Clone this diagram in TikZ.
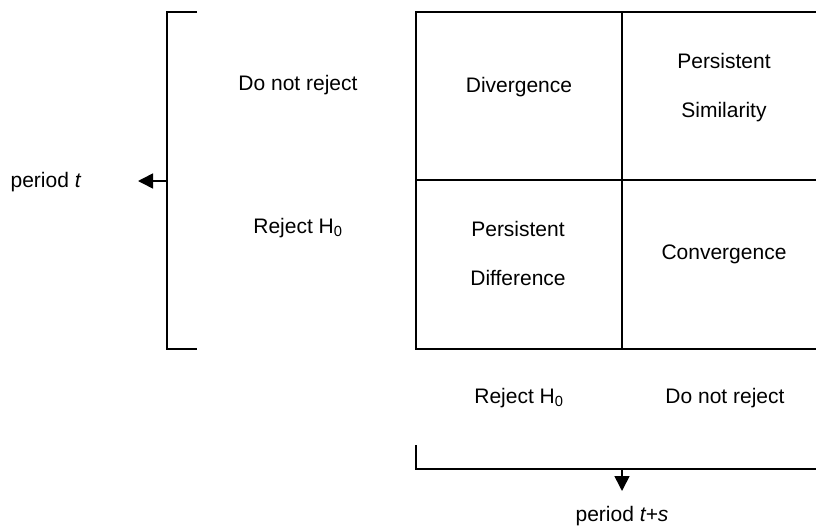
\documentclass[tikz,border=0pt]{standalone}
\usepackage{fontspec}
\setmainfont{Liberation Sans}
\usetikzlibrary{arrows.meta}

\begin{document}
\begin{tikzpicture}[x=1pt, y=-1pt, line width=1.6pt,
    lbl/.style={anchor=base, inner sep=0pt, font=\fontsize{21}{25}\selectfont},
    tip/.style={-{Triangle[length=15pt,width=15pt]}}]
    \useasboundingbox (0,0) rectangle (816,525);

    % the 2x2 table (right edge runs off the page)
    \coordinate (NW) at (416,12);
    \coordinate (N) at (622,12);
    \coordinate (NE) at (816,12);
    \coordinate (W) at (416,180);
    \coordinate (E) at (816,180);
    \coordinate (SW) at (416,349);
    \coordinate (S) at (622,349);
    \coordinate (SE) at (816,349);
    \draw (NE) -- (NW) -- (SW) -- (SE)
          (W) -- (E)
          (N) -- (S);

    % left bracket, period t
    \coordinate (LT) at (197,12);
    \coordinate (LTc) at (167,12);
    \coordinate (LM) at (167,181);
    \coordinate (LBc) at (167,349);
    \coordinate (LB) at (197,349);
    \coordinate (LTip) at (138,181);
    \draw (LT) -- (LTc) -- (LBc) -- (LB);
    \draw[tip] (LM) -- (LTip);

    % bottom bracket, period t+s
    \coordinate (BL) at (416,445);
    \coordinate (BLc) at (416,469);
    \coordinate (BM) at (622,469);
    \coordinate (BR) at (816,469);
    \coordinate (BTip) at (622,491);
    \draw (BL) -- (BLc) -- (BR);
    \draw[tip] (BM) -- (BTip);

    % labels
    \node[lbl] (rowno) at (298,90) {Do not reject};
    \node[lbl] (rowrej) at (298,233) {Reject H\textsubscript{0}};
    \node[lbl] (perT) at (46,187) {period \textit{t}};

    \node[lbl] (div) at (519,92) {Divergence};
    \node[lbl] (simA) at (724,68) {Persistent};
    \node[lbl] (simB) at (724,117) {Similarity};
    \node[lbl] (difA) at (518,236) {Persistent};
    \node[lbl] (difB) at (518,285) {Difference};
    \node[lbl] (conv) at (724,259) {Convergence};

    \node[lbl] (colrej) at (519,403) {Reject H\textsubscript{0}};
    \node[lbl] (colno) at (725,403) {Do not reject};
    \node[lbl] (perTS) at (622,521) {period \textit{t+s}};
\end{tikzpicture}
\end{document}
